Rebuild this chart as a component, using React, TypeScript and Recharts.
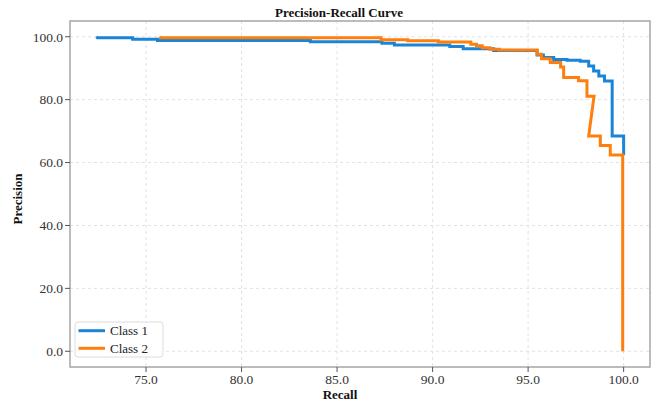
import React from 'react';
import { LineChart, Line, XAxis, YAxis, CartesianGrid, ReferenceArea } from 'recharts';

const seriesNames = ['Class 1', 'Class 2'];
const seriesColors = ['#1a85d6', '#ff7f0e'];

const class1Recall = [72.4, 72.45, 74.3, 74.3, 75.6, 75.6, 83.6, 83.6, 87.35, 87.35, 88.0, 88.0, 90.9, 90.9, 91.6, 91.6, 93.2, 93.2, 95.47, 95.47, 95.8, 95.8, 96.34, 96.34, 97.04, 97.04, 97.73, 97.73, 98.17, 98.17, 98.43, 98.43, 98.7, 98.7, 99.0, 99.0, 99.4, 99.4, 100.0, 100.0];
const class1Precision = [100.0, 99.7, 99.7, 99.2, 99.2, 98.8, 98.8, 98.4, 98.4, 97.9, 97.9, 97.4, 97.4, 96.9, 96.9, 96.2, 96.2, 95.6, 95.6, 94.2, 94.2, 93.4, 93.4, 92.8, 92.8, 92.5, 92.5, 92.2, 92.2, 90.7, 90.7, 89.1, 89.1, 87.5, 87.5, 85.9, 85.9, 68.4, 68.4, 62.3];

const class2Recall = [75.7, 75.75, 87.3, 87.3, 88.7, 88.7, 90.3, 90.3, 92.0, 92.0, 92.3, 92.3, 92.6, 92.6, 93.0, 93.0, 93.5, 93.5, 95.47, 95.47, 95.7, 95.7, 96.16, 96.16, 96.7, 96.7, 96.86, 96.86, 97.64, 97.64, 98.08, 98.08, 98.45, 98.17, 98.78, 98.78, 99.3, 99.3, 99.95, 99.95];
const class2Precision = [100.0, 99.7, 99.7, 99.0, 99.0, 98.7, 98.7, 98.3, 98.3, 97.6, 97.6, 97.1, 97.1, 96.5, 96.5, 96.0, 96.0, 95.8, 95.8, 94.4, 94.4, 93.0, 93.0, 91.8, 91.8, 90.4, 90.4, 87.0, 87.0, 86.0, 86.0, 81.1, 81.1, 68.4, 68.4, 65.4, 65.4, 62.4, 62.4, 0.0];

const xTicks = [75, 80, 85, 90, 95, 100];
const yTicks = [0, 20, 40, 60, 80, 100];
const xDomain: [number, number] = [71.02, 101.38];
const yDomain: [number, number] = [-5, 105];

const class1Data = class1Recall.map((r, i) => ({ recall: r, precision: class1Precision[i] }));
const class2Data = class2Recall.map((r, i) => ({ recall: r, precision: class2Precision[i] }));
const seriesData = [class1Data, class2Data];

const FONT = '"Liberation Serif", "Times New Roman", serif';
const tickStyle = { fontSize: 13.5, fill: '#333', fontFamily: FONT };

export default function App() {
  return (
    <div style={{ position: 'absolute', left: 0, top: 0, width: 654, height: 406, background: '#fff' }}>
      <LineChart width={654} height={406} margin={{ top: 21, right: 4, bottom: 0, left: 0 }}>
        <CartesianGrid strokeDasharray="3 3" stroke="#e2e2e2" />
        <XAxis
          dataKey="recall"
          type="number"
          domain={xDomain}
          ticks={xTicks}
          allowDataOverflow
          height={39}
          tickFormatter={(v: number) => v.toFixed(1)}
          tick={tickStyle}
          tickSize={5}
          tickMargin={2}
          axisLine={false}
          tickLine={{ stroke: '#555' }}
        />
        <YAxis
          dataKey="precision"
          type="number"
          domain={yDomain}
          ticks={yTicks}
          allowDataOverflow
          width={70}
          tickFormatter={(v: number) => v.toFixed(1)}
          tick={tickStyle}
          tickSize={5}
          tickMargin={2}
          axisLine={false}
          tickLine={{ stroke: '#555' }}
        />
        <ReferenceArea x1={xDomain[0]} x2={xDomain[1]} y1={yDomain[0]} y2={yDomain[1]} fill="none" fillOpacity={0} stroke="#a8a8a8" strokeWidth={1.5} ifOverflow="visible" />
        {seriesData.map((d, i) => (
          <Line
            key={seriesNames[i]}
            data={d}
            dataKey="precision"
            name={seriesNames[i]}
            type="linear"
            stroke={seriesColors[i]}
            strokeWidth={3}
            dot={false}
            activeDot={false}
            isAnimationActive={false}
            strokeLinejoin="miter"
          />
        ))}
      </LineChart>
      <svg width={654} height={406} style={{ position: 'absolute', left: 0, top: 0, pointerEvents: 'none' }}>
        <text x={339} y={16.5} textAnchor="middle" fontFamily={FONT} fontWeight="bold" fontSize={13} fill="#111">Precision-Recall Curve</text>
        <text x={340} y={399} textAnchor="middle" fontFamily={FONT} fontWeight="bold" fontSize={13} fill="#111">Recall</text>
        <text x={21.5} y={199} textAnchor="middle" fontFamily={FONT} fontWeight="bold" fontSize={13} fill="#111" transform="rotate(-90, 21.5, 199)">Precision</text>
        <rect x={75} y={322} width={88} height={35} rx={3} fill="#fff" fillOpacity={0.85} stroke="#dcdcdc" />
        {seriesNames.map((n, i) => (
          <g key={n}>
            <line x1={78.5} x2={105} y1={330.7 + i * 17.6} y2={330.7 + i * 17.6} stroke={seriesColors[i]} strokeWidth={3} />
            <text x={110} y={335.3 + i * 17.6} fontFamily={FONT} fontSize={13} fill="#222">{n}</text>
          </g>
        ))}
      </svg>
    </div>
  );
}
